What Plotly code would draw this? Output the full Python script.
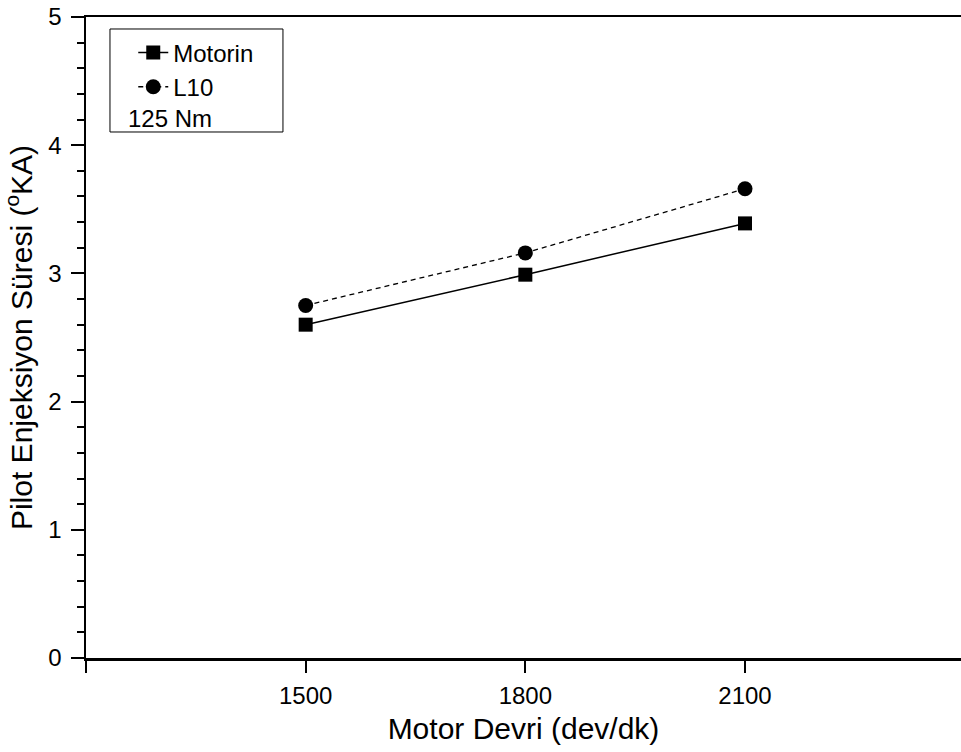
import plotly.graph_objects as go

# ---- data ----
rpm = [1500, 1800, 2100]
motorin = [2.60, 2.99, 3.39]
l10 = [2.75, 3.16, 3.66]
x_tickvals = [1500, 1800, 2100]
x_ticktext = ["1500", "1800", "2100"]
x_end_ticks = [1200, 2400]
y_tickvals = [0, 1, 2, 3, 4, 5]

FONT = "Liberation Sans, Arial, sans-serif"

fig = go.Figure()
fig.add_trace(go.Scatter(
    x=rpm, y=motorin, name="Motorin", mode="lines+markers",
    line=dict(color="black", width=1.5),
    marker=dict(symbol="square", size=14, color="black"),
))
fig.add_trace(go.Scatter(
    x=rpm, y=l10, name="L10", mode="lines+markers",
    line=dict(color="black", width=1.3, dash="5px,4px"),
    marker=dict(symbol="circle", size=15, color="black"),
))

fig.update_layout(
    width=961, height=752,
    margin=dict(l=86, r=0, t=17, b=94, autoexpand=False),
    paper_bgcolor="white", plot_bgcolor="white",
    font=dict(family=FONT, color="black", size=24),
    showlegend=True,
    legend=dict(
        x=0.054, y=0.979, xanchor="left", yanchor="top",
        bgcolor="rgba(0,0,0,0)", borderwidth=0,
        font=dict(size=24, family=FONT),
        tracegroupgap=0, itemsizing="trace",
    ),
    xaxis=dict(
        range=[1200, 2395], showgrid=False, zeroline=False, automargin=False,
        showline=True, linecolor="black", linewidth=2.5, mirror=True,
        ticks="outside", ticklen=12, tickwidth=2, tickcolor="black",
        tickvals=x_tickvals, ticktext=x_ticktext,
        tickfont=dict(size=24), ticklabelstandoff=3,
        minor=dict(tickvals=x_end_ticks, ticks="outside", ticklen=12, tickwidth=2,
                   tickcolor="black", showgrid=False),
        title=dict(text="Motor Devri (dev/dk)", font=dict(size=30), standoff=10),
    ),
    yaxis=dict(
        range=[0, 5], showgrid=False, zeroline=False, automargin=False,
        showline=True, linecolor="black", linewidth=2.5,
        ticks="outside", ticklen=13, tickwidth=2, tickcolor="black",
        tickvals=y_tickvals, tickfont=dict(size=24), ticklabelstandoff=4,
        ticklabeloverflow="allow",
        minor=dict(dtick=0.2, ticks="outside", ticklen=7, tickwidth=2, tickcolor="black", showgrid=False),
        title=dict(text="Pilot Enjeksiyon Süresi (<sup>o</sup>KA)", font=dict(size=30), standoff=8),
    ),
    shapes=[dict(
        type="rect", xref="paper", yref="paper",
        x0=0.0274, x1=0.2251, y0=0.8206, y1=0.9813,
        line=dict(color="black", width=1), fillcolor="rgba(0,0,0,0)",
    )],
    annotations=[dict(
        text="125 Nm", xref="paper", yref="paper", x=0.046, y=0.842,
        xanchor="left", yanchor="middle", showarrow=False,
        font=dict(size=24, family=FONT, color="black"),
    )],
)

fig.write_html(
    "out.html",
    config={"displayModeBar": False, "staticPlot": True},
    post_script=(
        "document.documentElement.style.margin='0';"
        "document.documentElement.style.overflow='hidden';"
        "document.body.style.margin='0';"
        "document.body.style.overflow='hidden';"
    ),
)
